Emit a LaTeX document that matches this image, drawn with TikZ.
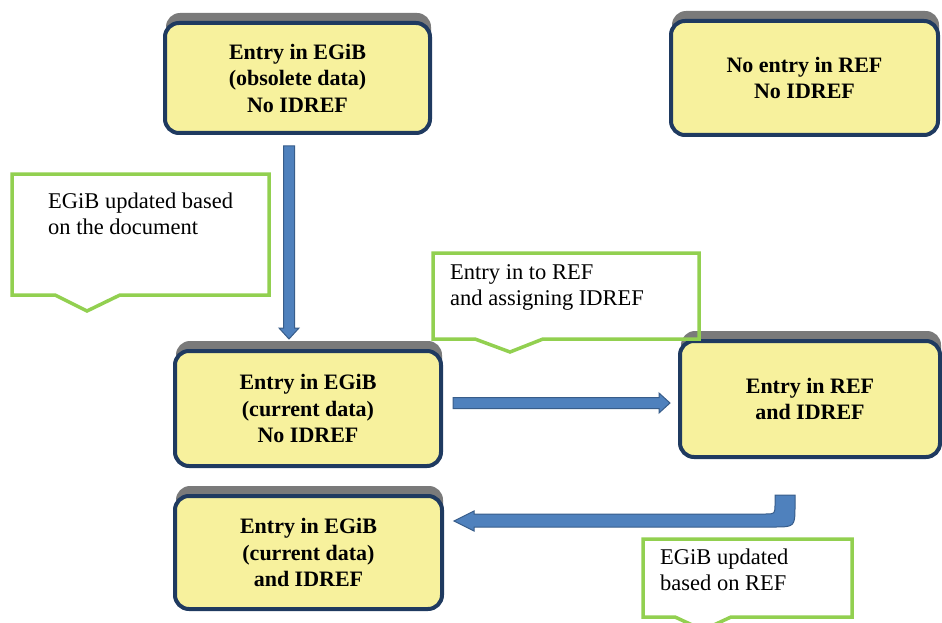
\documentclass[tikz,border=0pt]{standalone}
\usepackage{fontspec}
\setmainfont{Liberation Serif}
\usetikzlibrary{calc,shadows}

\definecolor{boxfill}{RGB}{247,241,157}
\definecolor{boxline}{RGB}{31,58,96}
\definecolor{shadowgray}{RGB}{122,122,122}
\definecolor{notegreen}{RGB}{146,208,80}
\definecolor{arrowblue}{RGB}{79,129,189}
\definecolor{arrowline}{RGB}{56,93,138}

\begin{document}
\begin{tikzpicture}[x=1pt,y=-1pt,
    entry/.style={draw=boxline, line width=4pt, fill=boxfill, rounded corners=14pt,
        align=center, inner sep=0pt, font=\fontsize{22}{26.5}\selectfont\bfseries,
        drop shadow={shadow xshift=1pt, shadow yshift=10pt, opacity=1, fill=shadowgray}},
    note/.style={draw=notegreen, line width=3.5pt, line join=miter},
    notetext/.style={align=left, anchor=north west, inner sep=0pt,
        font=\fontsize{22.5}{26}\selectfont},
    barrow/.style={draw=arrowline, fill=arrowblue, line width=1pt, line join=miter},
    blockarrow/.style={barrow, to path={
        ($(\tikztotarget)!11pt!(\tikztostart)$) coordinate (ah)
        ($(\tikztostart)!5.5pt!90:(\tikztotarget)$) -- ($(ah)!5.5pt!90:(\tikztotarget)$)
        -- ($(ah)!10pt!90:(\tikztotarget)$) -- (\tikztotarget)
        -- ($(ah)!10pt!-90:(\tikztotarget)$) -- ($(ah)!5.5pt!-90:(\tikztotarget)$)
        -- ($(\tikztostart)!5.5pt!-90:(\tikztotarget)$) -- cycle}}
    ]

    \useasboundingbox (0,0) rectangle (942,623);

    % boxes
    \node[entry, minimum width=265, minimum height=110] (old) at (297.5,78) {Entry in EGiB\\(obsolete data)\\No IDREF};
    \node[entry, minimum width=267, minimum height=114] (noref) at (804.5,78) {No entry in REF\\No IDREF};
    \node[entry, minimum width=266, minimum height=115] (cur) at (308,408.5) {Entry in EGiB\\(current data)\\No IDREF};
    \node[entry, minimum width=260, minimum height=116] (ref) at (810,399) {Entry in REF\\and IDREF};
    \node[entry, minimum width=267, minimum height=113] (done) at (308.5,552.5) {Entry in EGiB\\(current data)\\and IDREF};

    % arrows
    \coordinate (a1s) at ($(old.south)+(-8.5,11)$);
    \coordinate (a1e) at ($(a1s |- cur.north)+(0,-10)$);
    \draw[blockarrow] (a1s) to (a1e);

    \coordinate (a2s) at ($(cur.east)+(10,-5.5)$);
    \coordinate (a2e) at ($(a2s -| ref.west)+(-8,0)$);
    \draw[blockarrow] (a2s) to (a2e);

    \coordinate (a3s) at ($(ref.south)+(-25,36)$);
    \coordinate (a3t) at ($(done.east |- a3s)+(10,26)$);
    \draw[barrow] ($(a3s)+(10,0)$) -- ($(a3s)+(-10,0)$) -- ($(a3s)+(-10,9)$)
        .. controls ($(a3s)+(-10,19)$) .. ($(a3s)+(-20,19)$) -- ($(a3t)+(20,-7)$)
        -- ($(a3t)+(20,-10)$) -- (a3t) -- ($(a3t)+(20,10)$) -- ($(a3t)+(20,6)$)
        -- ($(a3s)+(-12,32)$) .. controls ($(a3s)+(10,32)$) .. ($(a3s)+(10,10)$) -- cycle;

    % callouts
    \draw[note] (12,174) -- (269,174) -- (269,295) -- (120,295) -- (87,311) -- (55,295) -- (12,295) -- cycle;
    \draw[note] (433,253) -- (699,253) -- (699,339) -- (543,339) -- (510,352) -- (475,339) -- (433,339) -- cycle;
    \draw[note] (643,539) -- (852,539) -- (852,617) -- (731,617) -- (703,630) -- (675,617) -- (643,617) -- cycle;

    \node[notetext] (n1) at (48,193) {EGiB updated based\\on the document};
    \node[notetext] (n2) at (450,264) {Entry in to REF\\and assigning IDREF};
    \node[notetext] (n3) at (660,549) {EGiB updated\\based on REF};
\end{tikzpicture}
\end{document}
